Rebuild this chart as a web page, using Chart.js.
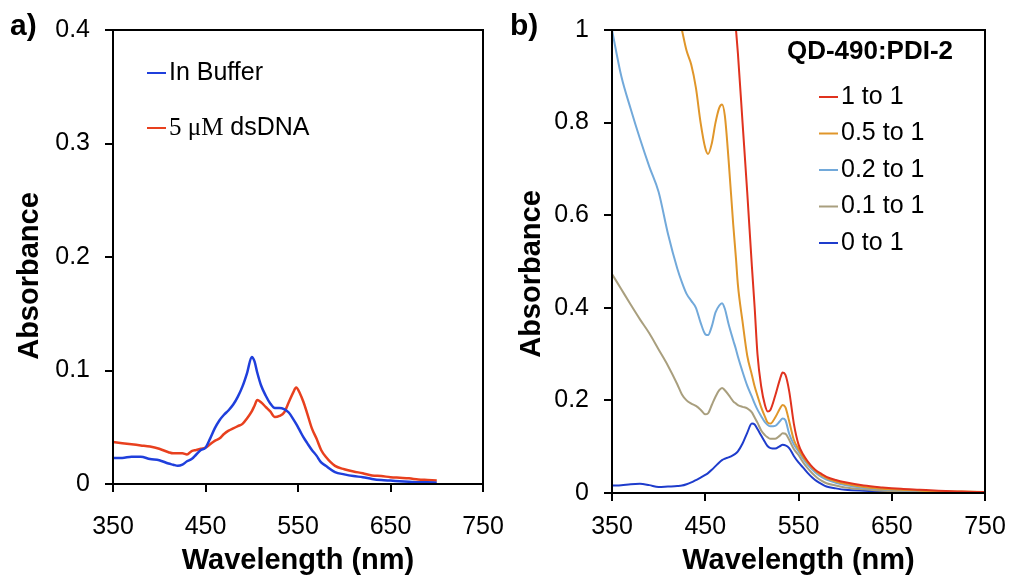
<!DOCTYPE html>
<html><head><meta charset="utf-8">
<script src="https://cdn.jsdelivr.net/npm/chart.js@4.4.1/dist/chart.umd.min.js"></script>
<style>
html,body{margin:0;padding:0;background:#fff;width:1009px;height:575px;overflow:hidden;position:relative}
canvas{position:absolute;top:0}
#ca{left:0}
#cb{left:500px}
</style></head><body>
<canvas id="ca" width="560" height="575"></canvas>
<canvas id="cb" width="560" height="575"></canvas>
<script>
const SANS = "'Liberation Sans', Arial, Helvetica, sans-serif";
const SERIF = "'Liberation Serif', 'Times New Roman', serif";

// ---------- shared ----------
const xTickLabels = ['350', '450', '550', '650', '750'];
const xTitle = 'Wavelength (nm)';
const yTitle = 'Absorbance';

// ---------- panel a ----------
const aWavelength = [350,360,370,380,390,400,410,415,420,425,430,435,440,445,450,455,460,465,470,475,480,485,490,495,500,503,506,510,515,520,525,530,535,540,545,548,552,556,560,565,570,575,580,590,600,610,620,630,640,650,660,670,680,690,700];
const aInBuffer = [.023,.023,.024,.024,.022,.021,.018,.017,.016,.017,.020,.022,.026,.030,.032,.040,.049,.056,.061,.065,.070,.077,.086,.098,.112,.108,.098,.087,.078,.071,.067,.067,.066,.063,.057,.053,.047,.041,.036,.030,.025,.019,.016,.0105,.0085,.007,.006,.0045,.0035,.003,.0025,.002,.0015,.0015,.0012];
const aDsDNA = [.037,.036,.035,.034,.033,.031,.028,.027,.027,.027,.026,.029,.030,.031,.032,.035,.038,.040,.044,.047,.049,.051,.053,.058,.064,.069,.074,.072,.068,.064,.059,.060,.063,.072,.081,.085,.080,.072,.062,.049,.040,.030,.024,.016,.013,.011,.0095,.0075,.007,.006,.0055,.005,.004,.0035,.003];
const aSeriesLabels = ['In Buffer', '5 μM dsDNA'];
const aYTickLabels = ['0', '0.1', '0.2', '0.3', '0.4'];

// ---------- panel b ----------
const bWavelength = [350,360,370,380,390,400,410,420,425,430,435,440,445,450,453,457,461,465,468,471,475,480,483,485,490,495,500,503,506,510,514,517,520,525,530,533,536,540,545,550,555,560,565,570,575,580,590,600,620,640,660,680,700,725,750];
const b1to1 = [null,null,null,null,null,null,null,null,null,null,null,null,null,null,null,null,null,null,null,null,null,null,1.0,0.95,0.80,0.65,0.49,0.40,0.30,0.23,0.19,0.176,0.18,0.21,0.245,0.26,0.255,0.22,0.15,0.105,0.083,0.068,0.056,0.047,0.041,0.035,0.028,0.023,0.016,0.012,0.009,0.007,0.005,0.003,0.002];
const b05to1 = [null,null,null,null,null,null,null,null,1.0,0.955,0.925,0.875,0.80,0.745,0.732,0.755,0.80,0.832,0.839,0.815,0.72,0.58,0.505,0.45,0.37,0.297,0.255,0.23,0.21,0.185,0.165,0.152,0.15,0.163,0.182,0.19,0.185,0.155,0.115,0.095,0.078,0.065,0.054,0.045,0.038,0.032,0.025,0.020,0.013,0.009,0.007,0.005,0.004,0.003,0.002];
const b02to1 = [1.0,0.90,0.83,0.765,0.705,0.65,0.56,0.485,0.455,0.43,0.415,0.40,0.368,0.343,0.341,0.36,0.39,0.405,0.41,0.398,0.365,0.33,0.31,0.295,0.262,0.232,0.208,0.193,0.18,0.166,0.153,0.147,0.144,0.145,0.155,0.161,0.157,0.128,0.105,0.09,0.074,0.061,0.05,0.041,0.034,0.029,0.022,0.017,0.011,0.008,0.006,0.004,0.003,0.002,0.001];
const b01to1 = [0.473,0.44,0.407,0.375,0.345,0.31,0.275,0.235,0.213,0.20,0.193,0.188,0.18,0.17,0.172,0.19,0.208,0.222,0.227,0.222,0.212,0.198,0.193,0.19,0.186,0.183,0.174,0.163,0.152,0.135,0.125,0.12,0.117,0.117,0.124,0.129,0.128,0.115,0.095,0.082,0.066,0.053,0.042,0.033,0.026,0.021,0.016,0.012,0.008,0.005,0.004,0.003,0.002,0.0015,0.001];
const b0to1 = [0.016,0.017,0.019,0.020,0.017,0.013,0.014,0.015,0.016,0.019,0.023,0.028,0.033,0.039,0.043,0.050,0.058,0.066,0.071,0.074,0.077,0.082,0.086,0.090,0.107,0.13,0.15,0.148,0.138,0.124,0.11,0.101,0.097,0.096,0.101,0.104,0.103,0.097,0.08,0.066,0.055,0.043,0.033,0.025,0.019,0.014,0.010,0.007,0.005,0.004,0.003,0.003,0.002,0.002,0.001];
const bSeriesLabels = ['1 to 1', '0.5 to 1', '0.2 to 1', '0.1 to 1', '0 to 1'];
const bLegendTitle = 'QD-490:PDI-2';
const bYTickLabels = ['0', '0.2', '0.4', '0.6', '0.8', '1'];

// ---------- helpers ----------
Chart.defaults.font.family = SANS;
Chart.defaults.color = '#000';

function pts(xs, ys) { return xs.map((x, i) => ({ x: x, y: ys[i] })); }

const decor = {
  id: 'decor',
  afterDraw(chart, args, o) {
    const ctx = chart.ctx, ca = chart.chartArea;
    ctx.save();
    ctx.strokeStyle = '#000'; ctx.lineWidth = 2;
    ctx.strokeRect(ca.left, ca.top, ca.right - ca.left, ca.bottom - ca.top);
    ctx.fillStyle = '#000';
    ctx.textBaseline = 'middle';
    // panel letter
    ctx.textAlign = 'left';
    ctx.font = 'bold 30px ' + SANS;
    ctx.fillText(o.panel, o.panelX, o.panelY);
    // y title
    ctx.save();
    ctx.translate(o.yTitleX, o.yTitleY);
    ctx.rotate(-Math.PI / 2);
    ctx.textAlign = 'center';
    ctx.font = 'bold 29px ' + SANS;
    ctx.fillText(yTitle, 0, 0);
    ctx.restore();
    // legend title
    if (o.legendTitle) {
      ctx.textAlign = 'center';
      ctx.font = 'bold 26px ' + SANS;
      ctx.fillText(o.legendTitle, o.legendTitleX, o.legendTitleY);
    }
    // legend entries
    ctx.textAlign = 'left';
    chart.data.datasets.forEach((ds, i) => {
      const y = o.legendY + i * o.legendGap;
      ctx.strokeStyle = ds.borderColor; ctx.lineWidth = 2;
      ctx.beginPath(); ctx.moveTo(o.legendX, y); ctx.lineTo(o.legendX + o.legendLine, y); ctx.stroke();
      let x = o.legendX + o.legendLine + 3;
      const parts = ds.legendParts || [[ds.label, SANS]];
      parts.forEach(p => {
        ctx.font = o.legendSize + 'px ' + p[1];
        ctx.fillText(p[0], x, y);
        x += ctx.measureText(p[0]).width;
      });
    });
    ctx.restore();
  }
};

function xScale(tickPad, axisHeight) {
  return {
    type: 'linear', min: 350, max: 750,
    afterBuildTicks(s) { s.ticks = xTickLabels.map(t => ({ value: Number(t) })); },
    afterFit(s) { s.height = axisHeight; },
    ticks: { callback: (v, i) => xTickLabels[i], font: { size: 25 }, color: '#000', padding: tickPad, maxRotation: 0, autoSkip: false },
    grid: { drawOnChartArea: false, drawTicks: true, tickLength: 8, color: '#000', lineWidth: 2 },
    border: { display: true, color: '#000', width: 2 },
    title: { display: true, text: xTitle, color: '#000', font: { size: 29, weight: 'bold', lineHeight: 1 }, padding: 0 }
  };
}
function yScale(labels, axisWidth) {
  const vals = labels.map(Number);
  return {
    type: 'linear', min: vals[0], max: vals[vals.length - 1],
    afterBuildTicks(s) { s.ticks = vals.map(v => ({ value: v })); },
    afterFit(s) { s.width = axisWidth; },
    ticks: { callback: (v, i) => labels[i], font: { size: 25 }, color: '#000', padding: 15, autoSkip: false },
    grid: { drawOnChartArea: false, drawTicks: true, tickLength: 8, color: '#000', lineWidth: 2 },
    border: { display: true, color: '#000', width: 2 }
  };
}
function line(label, xs, ys, color, w, extra) {
  return Object.assign({ label: label, data: pts(xs, ys), borderColor: color, backgroundColor: color,
    borderWidth: w, pointRadius: 0, fill: false, cubicInterpolationMode: 'monotone', spanGaps: false }, extra || {});
}

// ---------- chart a ----------
new Chart(document.getElementById('ca'), {
  type: 'line',
  data: { datasets: [
    line(aSeriesLabels[0], aWavelength, aInBuffer, '#1f3fdc', 2.5),
    line(aSeriesLabels[1], aWavelength, aDsDNA, '#e8401e', 2.5, { legendParts: [['5 μM', SERIF], [' dsDNA', SANS]] })
  ] },
  options: {
    responsive: false, animation: false, events: [],
    layout: { padding: { left: 0, top: 21, right: 77, bottom: 0 } },
    scales: { x: xScale(20, 91), y: yScale(aYTickLabels, 113) },
    plugins: {
      legend: { display: false }, tooltip: { enabled: false },
      decor: { panel: 'a)', panelX: 10, panelY: 27, yTitleX: 30, yTitleY: 276,
        legendX: 147, legendLine: 19, legendY: 73, legendGap: 55, legendSize: 25 }
    }
  },
  plugins: [decor]
});

// ---------- chart b ----------
const bColors = ['#e0321e', '#e0962a', '#72a9da', '#a99f7e', '#1e3ccc'];
const bSeries = [b1to1, b05to1, b02to1, b01to1, b0to1];
new Chart(document.getElementById('cb'), {
  type: 'line',
  data: { datasets: bSeries.map((s, i) => line(bSeriesLabels[i], bWavelength, s, bColors[i], 2)) },
  options: {
    responsive: false, animation: false, events: [],
    layout: { padding: { left: 0, top: 21, right: 75, bottom: 0 } },
    scales: { x: xScale(11, 82), y: yScale(bYTickLabels, 112) },
    plugins: {
      legend: { display: false }, tooltip: { enabled: false },
      decor: { panel: 'b)', panelX: 10, panelY: 27, yTitleX: 32, yTitleY: 274,
        legendTitle: bLegendTitle, legendTitleX: 370, legendTitleY: 52,
        legendX: 319, legendLine: 19, legendY: 97, legendGap: 36.5, legendSize: 25 }
    }
  },
  plugins: [decor]
});
</script>
</body></html>
